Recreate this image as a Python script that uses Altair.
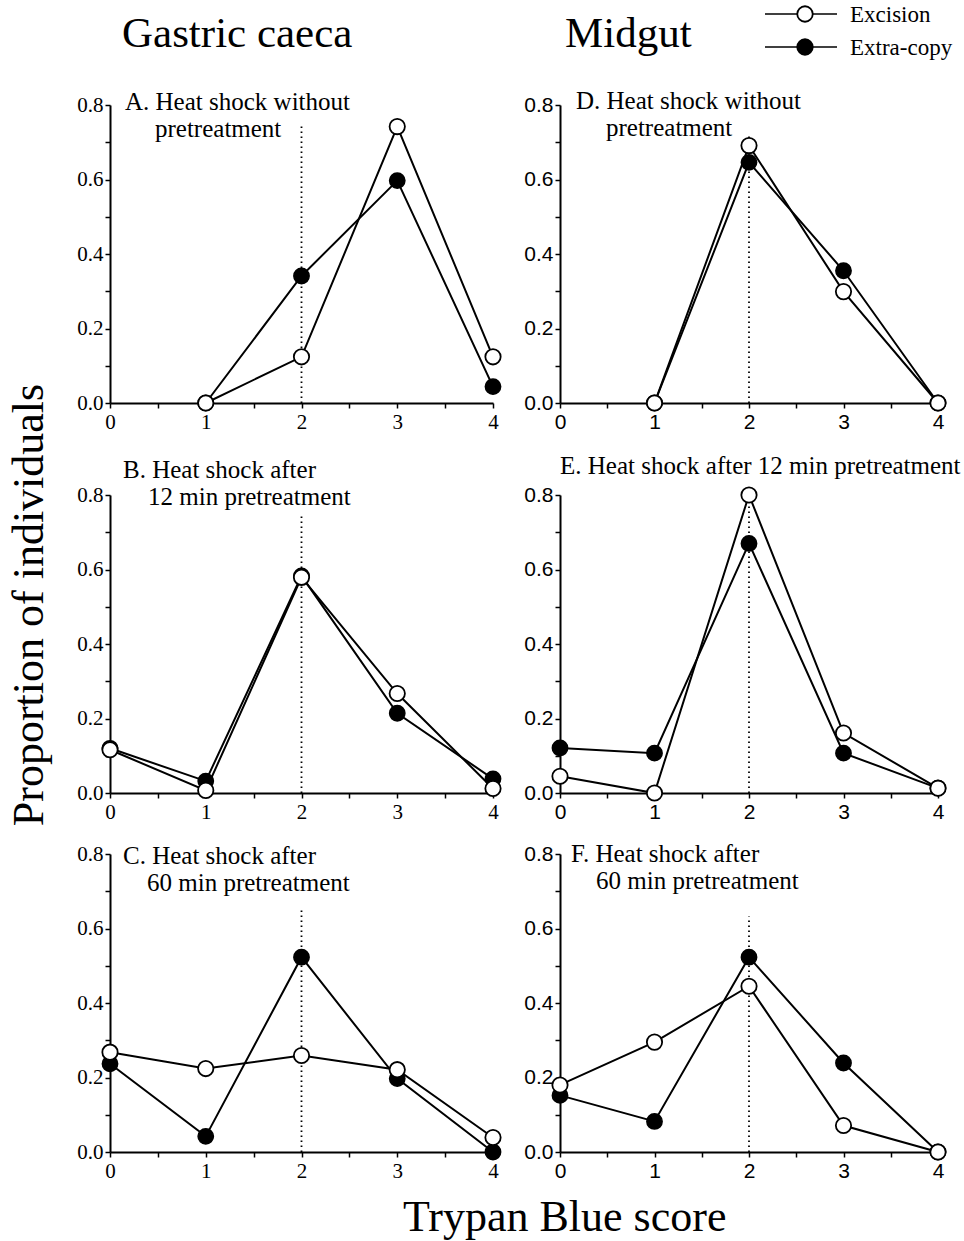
import altair as alt
import pandas as pd

# ---------------- data ----------------
scores_all = [0, 1, 2, 3, 4]
scores_top = [1, 2, 3, 4]
series_names = ["Excision", "Extra-copy"]

A_exc = [0.0, 0.124, 0.742, 0.124]
A_ext = [0.0, 0.341, 0.597, 0.044]
D_exc = [0.0, 0.691, 0.299, 0.0]
D_ext = [0.0, 0.646, 0.355, 0.0]
B_exc = [0.116, 0.007, 0.579, 0.267, 0.012]
B_ext = [0.120, 0.032, 0.583, 0.214, 0.038]
E_exc = [0.045, 0.0, 0.800, 0.161, 0.013]
E_ext = [0.121, 0.107, 0.670, 0.107, 0.013]
C_exc = [0.268, 0.224, 0.259, 0.221, 0.039]
C_ext = [0.237, 0.042, 0.523, 0.197, 0.0]
F_exc = [0.180, 0.295, 0.445, 0.071, 0.0]
F_ext = [0.152, 0.082, 0.523, 0.239, 0.0]

dotted_top = {"A": 0.746, "D": 0.722, "B": 0.751, "E": 0.80, "C": 0.648, "F": 0.632}

titles = {
    "A": ["A. Heat shock without", "pretreatment"],
    "D": ["D. Heat shock without", "pretreatment"],
    "B": ["B. Heat shock after", "12 min pretreatment"],
    "E": ["E. Heat shock after 12 min pretreatment"],
    "C": ["C. Heat shock after", "60 min pretreatment"],
    "F": ["F. Heat shock after", "60 min pretreatment"],
}
column_headers = ["Gastric caeca", "Midgut"]
y_title = "Proportion of individuals"
x_title = "Trypan Blue score"

x_ticks = [0, 0.5, 1, 1.5, 2, 2.5, 3, 3.5, 4]
y_ticks = [0, 0.1, 0.2, 0.3, 0.4, 0.5, 0.6, 0.7, 0.8]

SERIF = "Liberation Serif"
SANS = "Liberation Sans"
H = 298      # plot height
EXTRA = 31   # extra room above row-2 plots (row gaps 92 vs 61)


def text_layer(txt, px, py, size, font=SERIF, align="left", angle=0):
    return alt.Chart(pd.DataFrame({"t": [txt]})).mark_text(
        align=align, baseline="alphabetic", font=font, fontSize=size,
        color="black", angle=angle
    ).encode(text="t:N", x=alt.value(px), y=alt.value(py))


def make_panel(key, xs, exc, ext, width, font, title_pos, extra=(), top_pad=0):
    df = pd.DataFrame({
        "score": xs + xs,
        "prop": exc + ext,
        "series": [series_names[0]] * len(xs) + [series_names[1]] * len(xs),
    })
    common_axis = dict(
        title=None, grid=False, labelFont=font, labelFontSize=21,
        labelColor="black", domainColor="black", domainWidth=2,
        tickColor="black", tickWidth=1.5, tickSize=5, labelFlush=False,
        labelOverlap=False,
    )
    xenc = alt.X("score:Q", scale=alt.Scale(domain=[0, 4], nice=False, zero=False),
                 axis=alt.Axis(values=x_ticks, labelPadding=3,
                               labelExpr="datum.value % 1 == 0 ? format(datum.value, 'd') : ''",
                               **common_axis))
    yenc = alt.Y("prop:Q", scale=alt.Scale(domain=[0, 0.8], nice=False,
                                           range=[H + top_pad, top_pad]),
                 axis=alt.Axis(values=y_ticks, labelPadding=2,
                               labelExpr="round(datum.value * 10) % 2 == 0 ? format(datum.value, '.1f') : ''",
                               **common_axis))

    rule_df = pd.DataFrame({"score": [2], "prop": [0.0], "prop2": [dotted_top[key]]})
    rule = alt.Chart(rule_df).mark_rule(color="black", strokeDash=[1.6, 3.4], strokeWidth=1.8).encode(
        x=xenc, y=yenc, y2="prop2:Q")
    lines = alt.Chart(df).mark_line(color="black", strokeWidth=2).encode(
        x=xenc, y=yenc, detail="series:N")
    ext_pts = alt.Chart(df).transform_filter(alt.datum.series == series_names[1]).mark_point(
        shape="circle", filled=True, fill="black", stroke="black", strokeWidth=1.5,
        size=235, opacity=1).encode(x=xenc, y=yenc)
    exc_pts = alt.Chart(df).transform_filter(alt.datum.series == series_names[0]).mark_point(
        shape="circle", filled=True, fill="white", stroke="black", strokeWidth=1.8,
        size=235, opacity=1).encode(x=xenc, y=yenc)

    layers = list(extra) + [rule, lines, ext_pts, exc_pts]
    for line, (px, py) in zip(titles[key], title_pos):
        layers.append(text_layer(line, px, py + top_pad, 25))
    return alt.layer(*layers).properties(width=width, height=H + top_pad)


# global decorations placed relative to panel A's plot origin (page x=110, y=105)
marker = alt.Chart(pd.DataFrame({"a": [0]})).mark_rect(fill="white", opacity=1).encode(
    x=alt.value(-110), x2=alt.value(-109), y=alt.value(-105), y2=alt.value(-104))
header_left = text_layer(column_headers[0], 12, -58, 43)
header_right = text_layer(column_headers[1], 455, -58, 43)
ytitle = text_layer(y_title, -67, 500, 44, align="center", angle=270)

leg_rows = []
for name, fillc, yy in [(series_names[0], "white", -91), (series_names[1], "black", -58)]:
    leg_rows.append(alt.Chart(pd.DataFrame({"a": [0]})).mark_rule(color="black", strokeWidth=1.5).encode(
        x=alt.value(655), x2=alt.value(727), y=alt.value(yy)))
    leg_rows.append(alt.Chart(pd.DataFrame({"a": [0]})).mark_point(
        shape="circle", filled=True, fill=fillc, stroke="black", strokeWidth=1.8,
        size=240, opacity=1).encode(x=alt.value(695), y=alt.value(yy)))
    leg_rows.append(text_layer(name, 740, yy + 8, 23))

xtitle = text_layer(x_title, 293, 377, 44)

pA = make_panel("A", scores_top, A_exc, A_ext, 383, SERIF, [(15, 5), (45, 32)],
                extra=[marker, header_left, header_right, ytitle] + leg_rows)
pD = make_panel("D", scores_top, D_exc, D_ext, 378, SANS, [(16, 4), (46, 31)])
pB = make_panel("B", scores_all, B_exc, B_ext, 383, SERIF, [(13, -17), (38, 10)], top_pad=EXTRA)
pE = make_panel("E", scores_all, E_exc, E_ext, 378, SANS, [(0, -21)], top_pad=EXTRA)
pC = make_panel("C", scores_all, C_exc, C_ext, 383, SERIF, [(13, 10), (37, 37)], extra=[xtitle])
pF = make_panel("F", scores_all, F_exc, F_ext, 378, SANS, [(11, 8), (36, 35)])

chart = alt.concat(pA, pD, pB, pE, pC, pF, columns=2, bounds="flush",
                   spacing={"row": 61, "column": 67}).properties(
    padding=0, background="white"
).configure_view(stroke=None)

chart.save("out.html", embed_options={"renderer": "svg", "actions": False})
